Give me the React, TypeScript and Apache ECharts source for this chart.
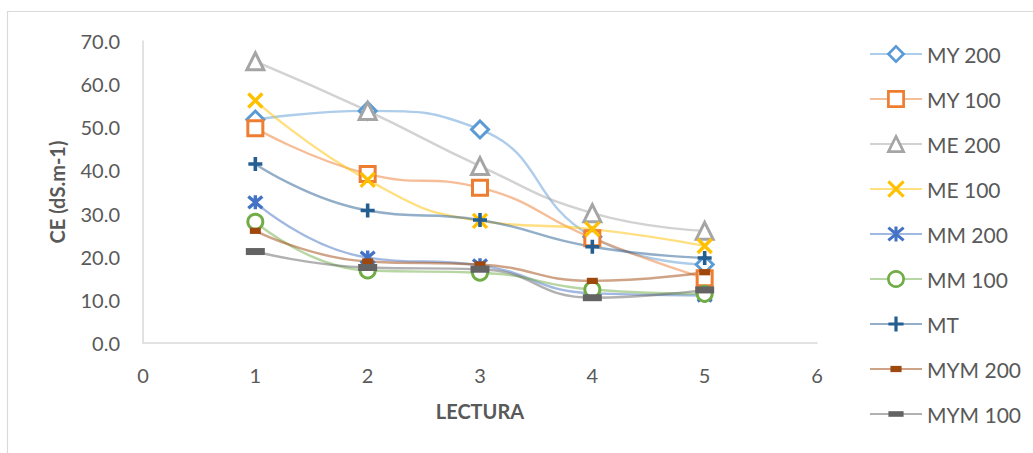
import React, { useEffect, useRef } from "react";
import * as echarts from "echarts";

// Lecturas (eje X) y conductividad eléctrica por tratamiento
const lecturas = [1, 2, 3, 4, 5];
const seriesNames = ["MY 200", "MY 100", "ME 200", "ME 100", "MM 200", "MM 100", "MT", "MYM 200", "MYM 100"];
const my200 = [51.8, 53.8, 49.5, 24.6, 18.2];
const my100 = [49.8, 39.2, 36.0, 24.3, 15.0];
const me200 = [65.3, 53.8, 41.0, 30.1, 26.0];
const me100 = [56.2, 37.8, 28.3, 26.4, 22.5];
const mm200 = [32.6, 19.8, 18.0, 11.5, 11.0];
const mm100 = [28.1, 16.8, 16.3, 12.4, 11.4];
const mt = [41.5, 30.7, 28.5, 22.3, 19.7];
const mym200 = [26.0, 18.9, 18.2, 14.4, 16.4];
const mym100 = [21.2, 17.5, 17.1, 10.5, 12.3];
const yTicks = [0, 10, 20, 30, 40, 50, 60, 70];
const xTicks = [0, 1, 2, 3, 4, 5, 6];

const palette = ["#5B9BD5", "#ED7D31", "#A5A5A5", "#FFC000", "#4472C4", "#70AD47", "#255E91", "#9E480E", "#636363"];

const FONT = "Lato, 'Open Sans', sans-serif";
const TEXT = "#595959";

const X_PATH = "path://M0,0L10,10M10,0L0,10";
const STAR_PATH = "path://M0,0L10,10M10,0L0,10M5,-1L5,11";
const PLUS_PATH = "path://M5,0L5,10M0,5L10,5";
// Dash markers: a filled bar inside a square box (the zero-length moves pad the box),
// so the bar keeps its proportions wherever the symbol is stretched to a square.
const DASH_LONG = "path://M0,6L19,6L19,13L0,13ZM0,0L0,0M0,19L0,19";
const DASH_SHORT = "path://M2,5L13,5L13,12L2,12ZM0,0L0,0M15,17L15,17";

type Marker = { symbol: string; size: number; border: number; hollow?: boolean; stroke?: boolean };

const markers: Marker[] = [
  { symbol: "diamond", size: 17, border: 3, hollow: true },
  { symbol: "rect", size: 15, border: 3, hollow: true },
  { symbol: "triangle", size: 17, border: 3, hollow: true },
  { symbol: X_PATH, size: 14, border: 3.4, stroke: true },
  { symbol: STAR_PATH, size: 14, border: 3.4, stroke: true },
  { symbol: "circle", size: 15, border: 3, hollow: true },
  { symbol: PLUS_PATH, size: 14, border: 3.6, stroke: true },
  { symbol: DASH_SHORT, size: 15, border: 0 },
  { symbol: DASH_LONG, size: 19, border: 0 },
];

const values = [my200, my100, me200, me100, mm200, mm100, mt, mym200, mym100];

function markerStyle(i: number, scale: number) {
  const c = palette[i];
  const m = markers[i];
  if (m.hollow) return { color: "#ffffff", borderColor: c, borderWidth: m.border * scale };
  if (m.stroke) return { color: c, borderColor: c, borderWidth: m.border * scale };
  return { color: c, borderColor: c, borderWidth: 0 };
}

export default function App() {
  const ref = useRef<HTMLDivElement>(null);

  useEffect(() => {
    if (!ref.current) return;
    const chart = echarts.init(ref.current, undefined, { renderer: "svg" });

    const series = seriesNames.map((name, i) => {
      const c = palette[i];
      const m = markers[i];
      return {
        name,
        type: "line",
        smooth: 0.5,
        data: lecturas.map((x, k) => [x, values[i][k]]),
        symbol: m.symbol,
        symbolSize: m.size,
        showAllSymbol: true,
        lineStyle: { color: c, width: 2.4, opacity: 0.5 },
        itemStyle: markerStyle(i, 1),
        emphasis: { disabled: true },
      };
    });

    const legendData = seriesNames.map((name, i) => ({
      name,
      itemStyle: markerStyle(i, 0.9),
    }));

    chart.setOption({
      animation: false,
      textStyle: { fontFamily: FONT },
      grid: { left: 143, right: 216, top: 41, bottom: 110, containLabel: false },
      xAxis: {
        type: "value",
        min: xTicks[0],
        max: xTicks[xTicks.length - 1],
        interval: 1,
        name: "LECTURA",
        nameLocation: "middle",
        nameGap: 58,
        nameTextStyle: { color: TEXT, fontFamily: FONT, fontSize: 20, fontWeight: "bold" },
        axisLine: { show: true, lineStyle: { color: "#D9D9D9", width: 1.5 } },
        axisTick: { show: false },
        splitLine: { show: false },
        axisLabel: { color: TEXT, fontFamily: FONT, fontSize: 20, margin: 22 },
      },
      yAxis: {
        type: "value",
        min: yTicks[0],
        max: yTicks[yTicks.length - 1],
        interval: 10,
        name: "CE (dS.m-1)",
        nameLocation: "middle",
        nameGap: 76,
        nameTextStyle: { color: TEXT, fontFamily: FONT, fontSize: 20, fontWeight: "bold" },
        axisLine: { show: true, lineStyle: { color: "#D9D9D9", width: 1.5 } },
        axisTick: { show: false },
        splitLine: { show: false },
        axisLabel: {
          color: TEXT,
          fontFamily: FONT,
          fontSize: 20,
          margin: 23,
          formatter: (v: number) => v.toFixed(1),
        },
      },
      legend: {
        orient: "vertical",
        left: 864,
        top: 38,
        itemWidth: 52,
        itemHeight: 19,
        itemGap: 23,
        data: legendData,
        textStyle: { color: TEXT, fontFamily: FONT, fontSize: 21, lineHeight: 22 },
      },
      graphic: [
        {
          type: "line",
          shape: { x1: 7.5, y1: 11, x2: 7.5, y2: 453 },
          style: { stroke: "#D9D9D9", lineWidth: 1.2 },
          silent: true,
        },
        {
          type: "line",
          shape: { x1: 7, y1: 11.5, x2: 1033, y2: 11.5 },
          style: { stroke: "#D9D9D9", lineWidth: 1.2 },
          silent: true,
        },
      ],
      series,
    });

    return () => chart.dispose();
  }, []);

  return (
    <div
      ref={ref}
      style={{ position: "absolute", left: 0, top: 0, width: 1033, height: 453, background: "#ffffff" }}
    />
  );
}
